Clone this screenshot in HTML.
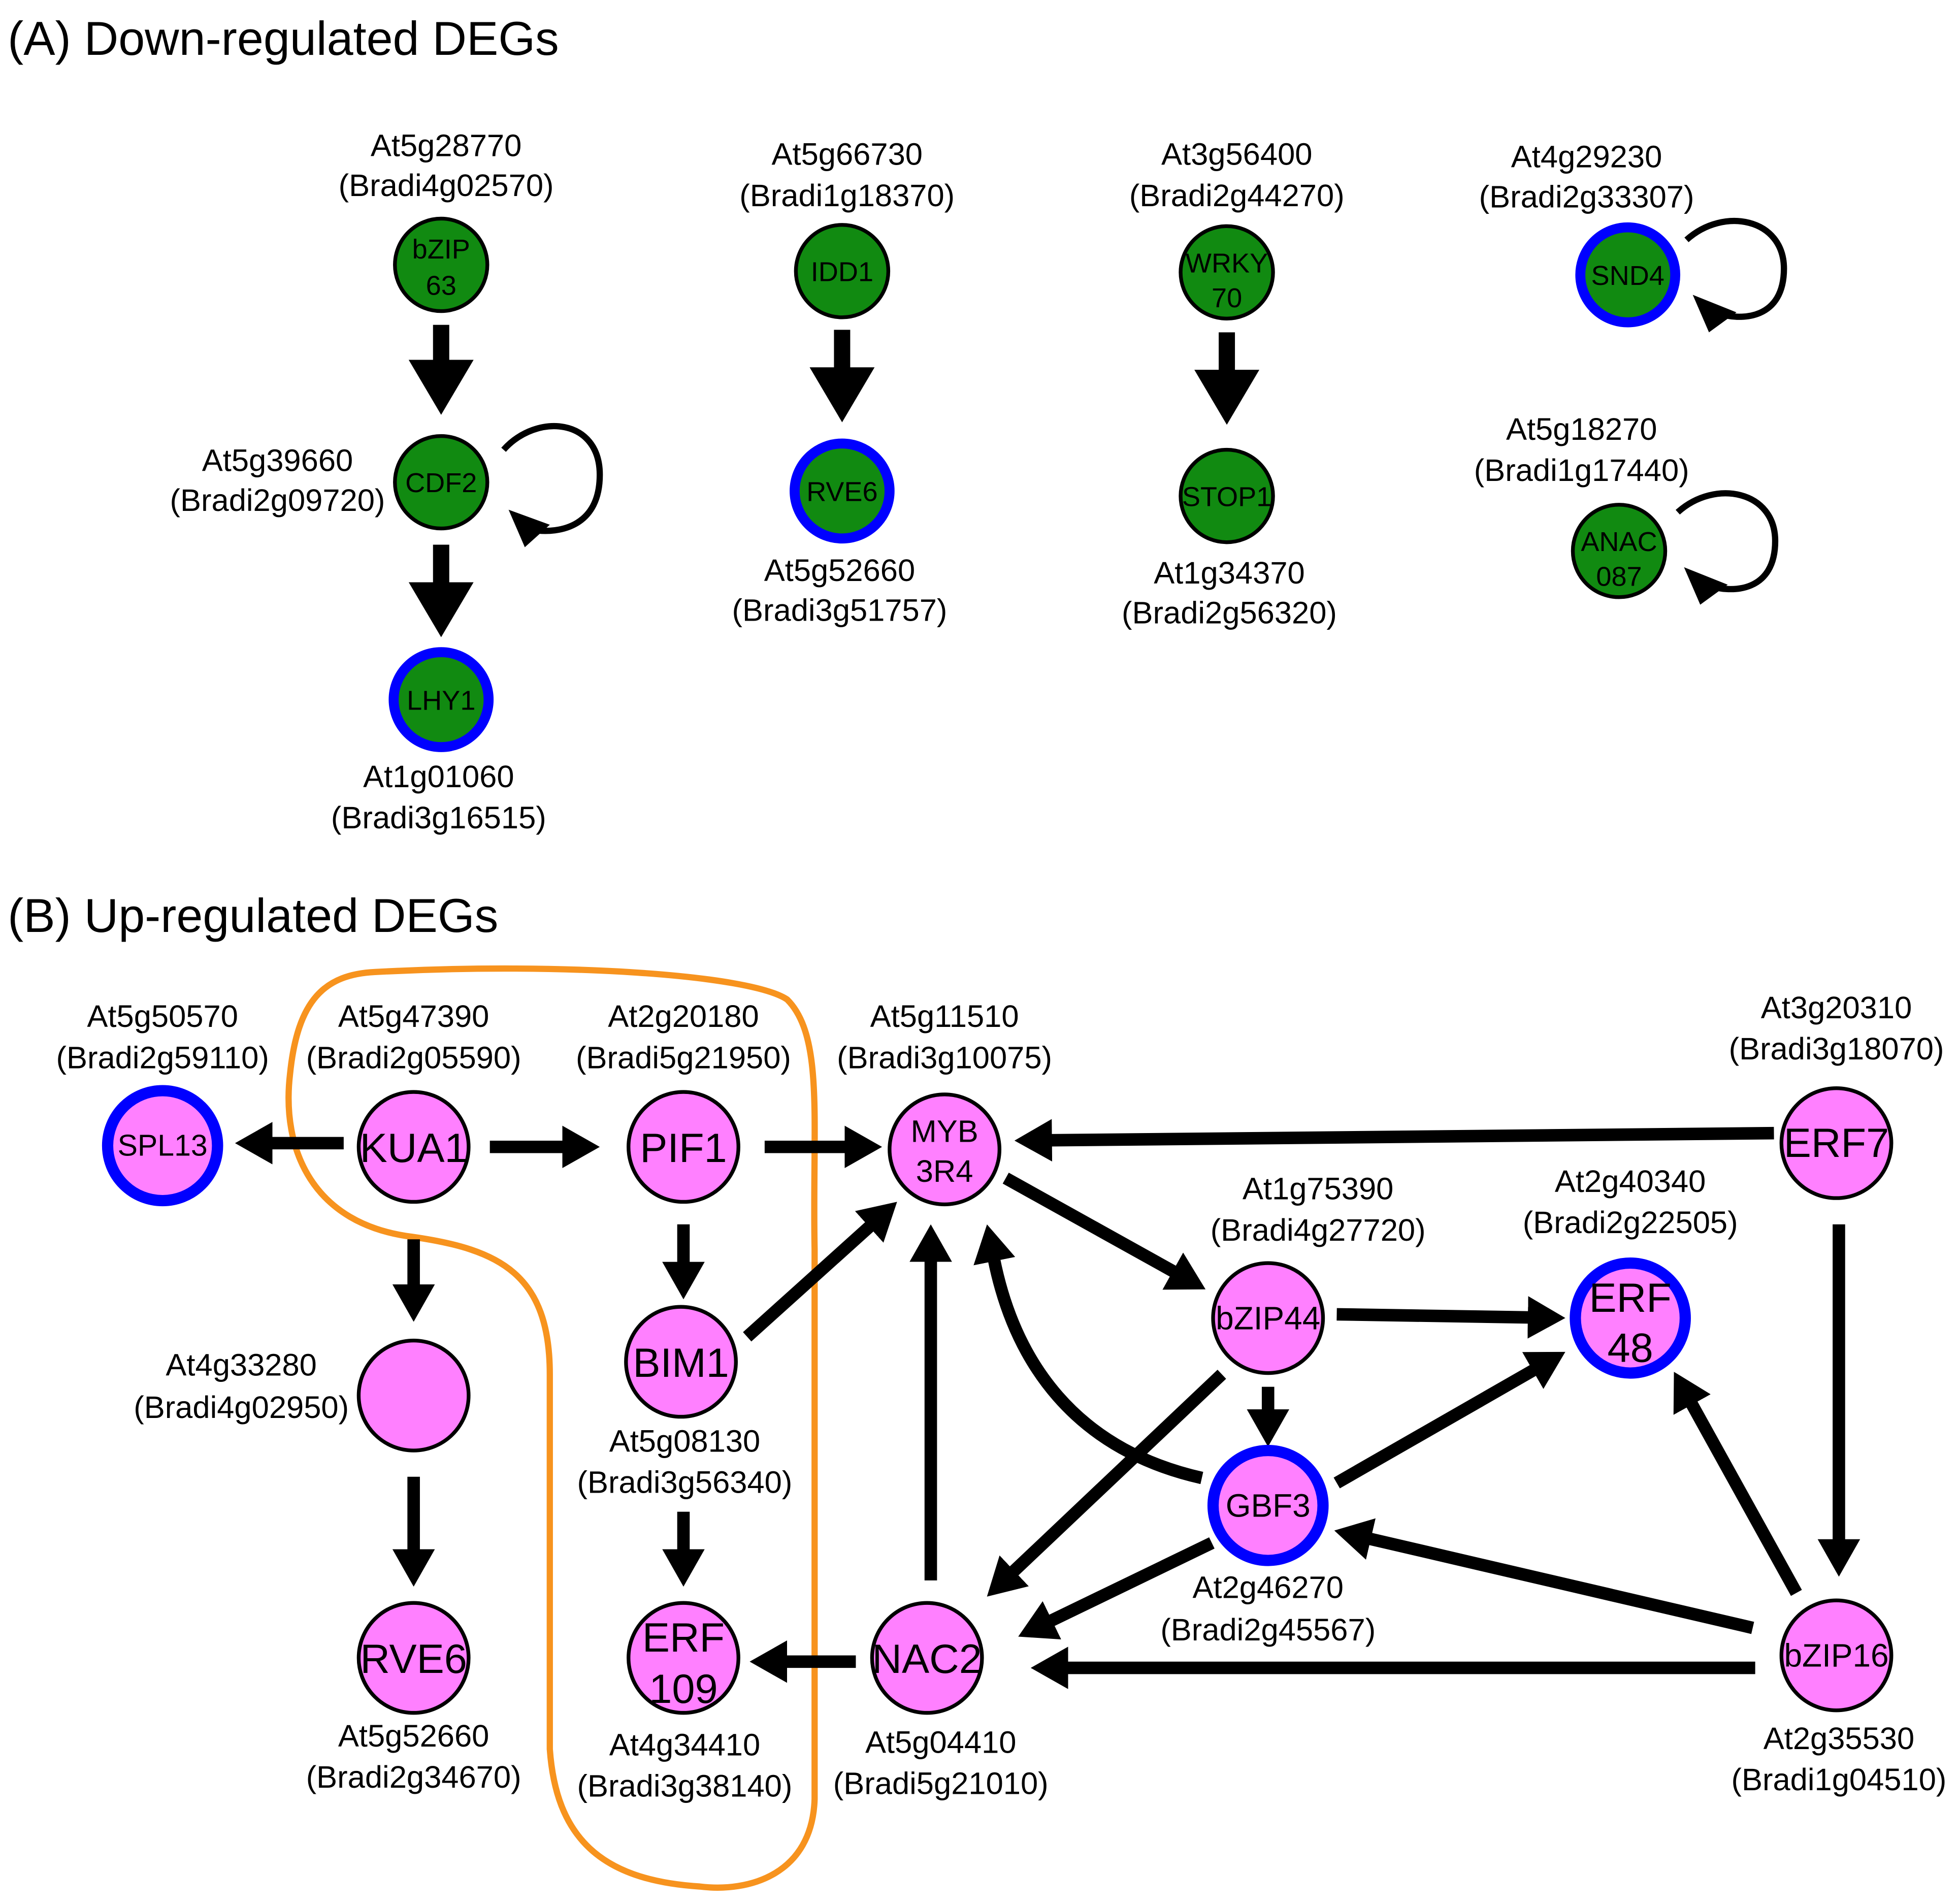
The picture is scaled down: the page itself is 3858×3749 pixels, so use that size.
<!DOCTYPE html>
<html><head><meta charset="utf-8"><style>
html,body{margin:0;padding:0;background:#fff;}
svg{display:block;}
text{font-family:"Liberation Sans Narrow","Liberation Sans",sans-serif;fill:#000;}
</style></head><body>
<svg width="3858" height="3749" viewBox="0 0 1568 1524" xmlns="http://www.w3.org/2000/svg">
<defs>
<marker id="ha" markerUnits="userSpaceOnUse" markerWidth="60" markerHeight="60" refX="2" refY="26" orient="auto"><polygon points="0,0 44,26 0,52" fill="#000"/></marker>
<marker id="hb" markerUnits="userSpaceOnUse" markerWidth="40" markerHeight="40" refX="2" refY="17" orient="auto"><polygon points="0,0 30,17 0,34" fill="#000"/></marker>
</defs>
<rect width="1568" height="1524" fill="#fff"/>
<text x="6" y="44" font-size="38" font-family="Liberation Sans">(A) Down-regulated DEGs</text>
<text x="6" y="746" font-size="38" font-family="Liberation Sans">(B) Up-regulated DEGs</text>

<g stroke="#000" stroke-width="13" fill="none">
<line x1="353" y1="260" x2="353" y2="290" marker-end="url(#ha)"/>
<line x1="353" y1="436" x2="353" y2="468" marker-end="url(#ha)"/>
<line x1="674" y1="264" x2="674" y2="296" marker-end="url(#ha)"/>
<line x1="982" y1="266" x2="982" y2="298" marker-end="url(#ha)"/>
</g>
<g stroke="#000" stroke-width="5" fill="none">
<path d="M403 360 C430 330 480 335 480 380 C480 420 450 428 425 424" />
<path d="M1350 192 C1380 165 1428 175 1428 215 C1428 255 1395 258 1372 250"/>
<path d="M1343 410 C1373 383 1421 393 1421 433 C1421 473 1388 476 1365 468"/>
</g>
<g fill="#000">
<polygon points="407,408 440,420 420,438"/>
<polygon points="1355,236 1390,250 1368,266"/>
<polygon points="1348,454 1383,468 1361,484"/>
</g>

<g stroke="#000" stroke-width="3" fill="#118a11">
<circle cx="353" cy="212" r="37"/>
<circle cx="353" cy="386" r="37"/>
<circle cx="674" cy="217" r="37"/>
<circle cx="982" cy="218" r="37"/>
<circle cx="982" cy="397" r="37"/>
<circle cx="1296" cy="441" r="37"/>
</g>
<g stroke="#0000ff" stroke-width="8" fill="#118a11">
<circle cx="353" cy="560" r="38"/>
<circle cx="674" cy="393" r="38"/>
<circle cx="1303" cy="220" r="38"/>
</g>
<g font-size="22" text-anchor="middle">
<text x="353" y="207">bZIP</text><text x="353" y="236">63</text>
<text x="353" y="394">CDF2</text>
<text x="353" y="568">LHY1</text>
<text x="674" y="225">IDD1</text>
<text x="674" y="401">RVE6</text>
<text x="982" y="218">WRKY</text><text x="982" y="246">70</text>
<text x="982" y="405">STOP1</text>
<text x="1303" y="228">SND4</text>
<text x="1296" y="441">ANAC</text><text x="1296" y="469">087</text>
</g>
<g font-size="25" text-anchor="middle">
<text x="357" y="125">At5g28770</text><text x="357" y="157">(Bradi4g02570)</text>
<text x="222" y="377">At5g39660</text><text x="222" y="409">(Bradi2g09720)</text>
<text x="351" y="630">At1g01060</text><text x="351" y="663">(Bradi3g16515)</text>
<text x="678" y="132">At5g66730</text><text x="678" y="165">(Bradi1g18370)</text>
<text x="672" y="465">At5g52660</text><text x="672" y="497">(Bradi3g51757)</text>
<text x="990" y="132">At3g56400</text><text x="990" y="165">(Bradi2g44270)</text>
<text x="984" y="467">At1g34370</text><text x="984" y="499">(Bradi2g56320)</text>
<text x="1270" y="134">At4g29230</text><text x="1270" y="166">(Bradi2g33307)</text>
<text x="1266" y="352">At5g18270</text><text x="1266" y="385">(Bradi1g17440)</text>
</g>

<path d="M300 778 C450 770 600 780 630 800 C660 830 650 900 652 1000 L652 1440 C650 1500 600 1515 560 1510 C480 1505 445 1470 440 1400 L440 1100 C440 1020 400 1000 330 990 C250 980 225 920 232 860 C238 800 260 780 300 778 Z" fill="none" stroke="#f7931e" stroke-width="5"/>

<g stroke="#000" stroke-width="10" fill="none" marker-end="url(#hb)">
<line x1="275" y1="915" x2="216" y2="915"/>
<line x1="392" y1="918" x2="452" y2="918"/>
<line x1="612" y1="918" x2="678" y2="918"/>
<line x1="1420" y1="907" x2="840" y2="912.7"/>
<line x1="331" y1="992" x2="331" y2="1030"/>
<line x1="331" y1="1182" x2="331" y2="1242"/>
<line x1="547" y1="980" x2="547" y2="1012"/>
<line x1="598" y1="1070" x2="697.2" y2="980.7"/>
<line x1="547" y1="1210" x2="547" y2="1242"/>
<line x1="805" y1="943" x2="940.5" y2="1018.4"/>
<line x1="745" y1="1265" x2="745" y2="1008"/>
<path d="M962 1183 C860 1160 812 1090 795.5 1007.5"/>
<line x1="1070" y1="1052" x2="1225" y2="1054.5"/>
<line x1="1015" y1="1110" x2="1015" y2="1130"/>
<line x1="978" y1="1100" x2="810.3" y2="1258.7"/>
<line x1="1070" y1="1187" x2="1228.7" y2="1096"/>
<line x1="970" y1="1235" x2="840.2" y2="1297.8"/>
<line x1="1472" y1="980" x2="1472" y2="1234"/>
<line x1="1438" y1="1275" x2="1353.5" y2="1122.5"/>
<line x1="1403" y1="1303" x2="1095.3" y2="1231.4"/>
<line x1="1405" y1="1335" x2="853" y2="1335"/>
<line x1="685" y1="1330" x2="628" y2="1330"/>
</g>

<g stroke="#000" stroke-width="3" fill="#ff80ff">
<circle cx="331" cy="918" r="44"/>
<circle cx="547" cy="918" r="44"/>
<circle cx="756" cy="920" r="44"/>
<circle cx="1470" cy="915" r="44"/>
<circle cx="1015" cy="1055" r="44"/>
<circle cx="331" cy="1117" r="44"/>
<circle cx="545" cy="1090" r="44"/>
<circle cx="331" cy="1327" r="44"/>
<circle cx="547" cy="1327" r="44"/>
<circle cx="742" cy="1327" r="44"/>
<circle cx="1470" cy="1325" r="44"/>
</g>
<g stroke="#0000ff" stroke-width="9" fill="#ff80ff">
<circle cx="130" cy="917" r="44"/>
<circle cx="1305" cy="1055" r="44"/>
<circle cx="1015" cy="1205" r="44"/>
</g>
<g text-anchor="middle">
<text x="130" y="925" font-size="24">SPL13</text>
<text x="331" y="930" font-size="33">KUA1</text>
<text x="547" y="930" font-size="33">PIF1</text>
<text x="756" y="914" font-size="25">MYB</text><text x="756" y="946" font-size="25">3R4</text>
<text x="1470" y="926" font-size="33">ERF7</text>
<text x="1015" y="1064" font-size="26">bZIP44</text>
<text x="1305" y="1050" font-size="33">ERF</text><text x="1305" y="1090" font-size="33">48</text>
<text x="545" y="1102" font-size="33">BIM1</text>
<text x="1015" y="1214" font-size="26">GBF3</text>
<text x="331" y="1339" font-size="33">RVE6</text>
<text x="547" y="1322" font-size="33">ERF</text><text x="547" y="1363" font-size="33">109</text>
<text x="742" y="1339" font-size="33">NAC2</text>
<text x="1470" y="1334" font-size="26">bZIP16</text>
</g>
<g font-size="25" text-anchor="middle">
<text x="130" y="822">At5g50570</text><text x="130" y="855">(Bradi2g59110)</text>
<text x="331" y="822">At5g47390</text><text x="331" y="855">(Bradi2g05590)</text>
<text x="547" y="822">At2g20180</text><text x="547" y="855">(Bradi5g21950)</text>
<text x="756" y="822">At5g11510</text><text x="756" y="855">(Bradi3g10075)</text>
<text x="1470" y="815">At3g20310</text><text x="1470" y="848">(Bradi3g18070)</text>
<text x="1055" y="960">At1g75390</text><text x="1055" y="993">(Bradi4g27720)</text>
<text x="1305" y="954">At2g40340</text><text x="1305" y="987">(Bradi2g22505)</text>
<text x="193" y="1101">At4g33280</text><text x="193" y="1135">(Bradi4g02950)</text>
<text x="548" y="1162">At5g08130</text><text x="548" y="1195">(Bradi3g56340)</text>
<text x="1015" y="1279">At2g46270</text><text x="1015" y="1313">(Bradi2g45567)</text>
<text x="331" y="1398">At5g52660</text><text x="331" y="1431">(Bradi2g34670)</text>
<text x="548" y="1405">At4g34410</text><text x="548" y="1438">(Bradi3g38140)</text>
<text x="753" y="1403">At5g04410</text><text x="753" y="1436">(Bradi5g21010)</text>
<text x="1472" y="1400">At2g35530</text><text x="1472" y="1433">(Bradi1g04510)</text>
</g>
</svg>
</body></html>
